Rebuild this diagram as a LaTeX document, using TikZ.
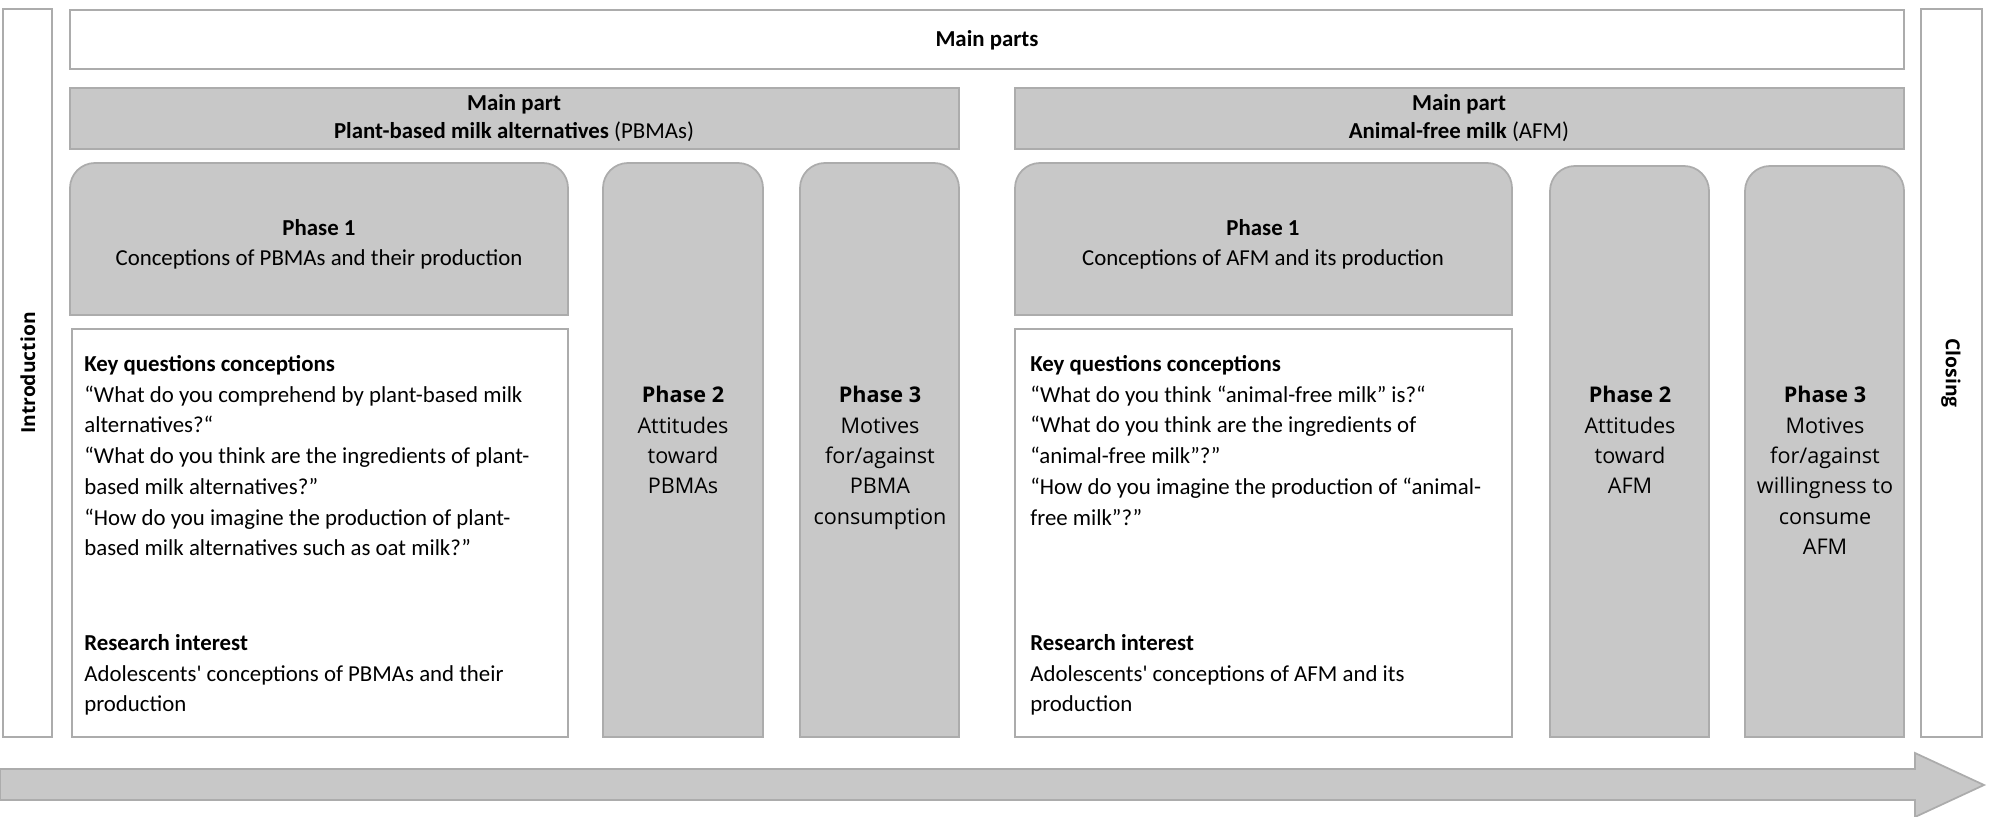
\documentclass[tikz,border=0pt]{standalone}
\usepackage{fontspec}
\setmainfont{Carlito}
\newfontfamily\opensans{Open Sans}
\usetikzlibrary{positioning}
\definecolor{boxfill}{RGB}{200,200,200}
\definecolor{boxline}{RGB}{172,172,172}

\begin{document}
\begin{tikzpicture}[x=0.02cm, y=-0.02cm,
    frame/.style={draw=boxline, line width=1pt, fill=white},
    grey/.style={draw=boxline, line width=1pt, fill=boxfill},
    txt/.style={font=\fontsize{13}{17.5}\selectfont, inner sep=0pt},
    coltxt/.style={font=\opensans\fontsize{12.3}{17.3}\selectfont, align=center, inner sep=0pt, anchor=north}]
    \useasboundingbox (0,0) rectangle (1992,817);
    % Frame: introduction, main parts, closing
    \draw[frame] (3,9) rectangle (52,737);
    \draw[frame] (70,10) rectangle (1904,69);
    \draw[frame] (1921,9) rectangle (1982,737);
    % Main part bars
    \draw[grey] (70,88) rectangle (959,149);
    \draw[grey] (1015,88) rectangle (1904,149);
    % Phase boxes, rounded at the top
    \draw[grey] (70,315) [rounded corners=0.5cm] -- (70,163) -- (568,163) [sharp corners] -- (568,315) -- cycle;
    \draw[grey] (603,737) [rounded corners=0.5cm] -- (603,163) -- (763,163) [sharp corners] -- (763,737) -- cycle;
    \draw[grey] (800,737) [rounded corners=0.5cm] -- (800,163) -- (959,163) [sharp corners] -- (959,737) -- cycle;
    \draw[grey] (1015,315) [rounded corners=0.5cm] -- (1015,163) -- (1512,163) [sharp corners] -- (1512,315) -- cycle;
    \draw[grey] (1550,737) [rounded corners=0.5cm] -- (1550,166) -- (1709,166) [sharp corners] -- (1709,737) -- cycle;
    \draw[grey] (1745,737) [rounded corners=0.5cm] -- (1745,166) -- (1904,166) [sharp corners] -- (1904,737) -- cycle;
    % Key question boxes
    \draw[frame] (72,329) rectangle (568,737);
    \draw[frame] (1015,329) rectangle (1512,737);
    % Time arrow
    \draw[grey] (0,769) -- (1915,769) -- (1915,753) -- (1984,785) -- (1915,817) -- (1915,800) -- (0,800) -- cycle;

    % Labels
    \node[txt, font=\opensans\bfseries\fontsize{11}{14}\selectfont, rotate=90] (intro) at (28,373) {Introduction};
    \node[txt, font=\opensans\bfseries\fontsize{11}{14}\selectfont, rotate=-90] (closing) at (1951,373) {Closing};
    \node[txt, font=\bfseries\fontsize{13}{17.5}\selectfont] (mainparts) at (987,40) {Main parts};
    \node[txt, align=center, font=\fontsize{13}{16}\selectfont] (pbma) at (514,118)
        {\textbf{Main part}\\\textbf{Plant-based milk alternatives} (PBMAs)};
    \node[txt, align=center, font=\fontsize{13}{16}\selectfont] (afm) at (1459,118)
        {\textbf{Main part}\\\textbf{Animal-free milk} (AFM)};
    \node[txt, align=center, font=\fontsize{13}{17}\selectfont] (pbmaone) at (319,244)
        {\textbf{Phase 1}\\Conceptions of PBMAs and their production};
    \node[txt, align=center, font=\fontsize{13}{17}\selectfont] (afmone) at (1263,244)
        {\textbf{Phase 1}\\Conceptions of AFM and its production};
    % Key questions
    \node[txt, align=left, anchor=north west] (pbmakey) at (84,355)
        {\textbf{Key questions conceptions}\\
        “What do you comprehend by plant-based milk\\
        alternatives?“\\
        “What do you think are the ingredients of plant-\\
        based milk alternatives?”\\
        “How do you imagine the production of plant-\\
        based milk alternatives such as oat milk?”};
    \node[txt, align=left, anchor=north west] (pbmaint) at (84,634)
        {\textbf{Research interest}\\
        Adolescents\textquotesingle{} conceptions of PBMAs and their\\
        production};
    \node[txt, align=left, anchor=north west] (afmkey) at (1030,355)
        {\textbf{Key questions conceptions}\\
        “What do you think “animal-free milk” is?“\\
        “What do you think are the ingredients of\\
        “animal-free milk”?”\\
        “How do you imagine the production of “animal-\\
        free milk”?”};
    \node[txt, align=left, anchor=north west] (afmint) at (1030,634)
        {\textbf{Research interest}\\
        Adolescents\textquotesingle{} conceptions of AFM and its\\
        production};
    % Phases 2 and 3
    \node[coltxt] (pbmatwo) at (683,386) {\textbf{Phase 2}\\Attitudes\\toward\\PBMAs};
    \node[coltxt] (pbmathree) at (880,386) {\textbf{Phase 3}\\Motives\\for/against\\PBMA\\consumption};
    \node[coltxt] (afmtwo) at (1630,386) {\textbf{Phase 2}\\Attitudes\\toward\\AFM};
    \node[coltxt] (afmthree) at (1825,386) {\textbf{Phase 3}\\Motives\\for/against\\willingness to\\consume\\AFM};
\end{tikzpicture}
\end{document}
